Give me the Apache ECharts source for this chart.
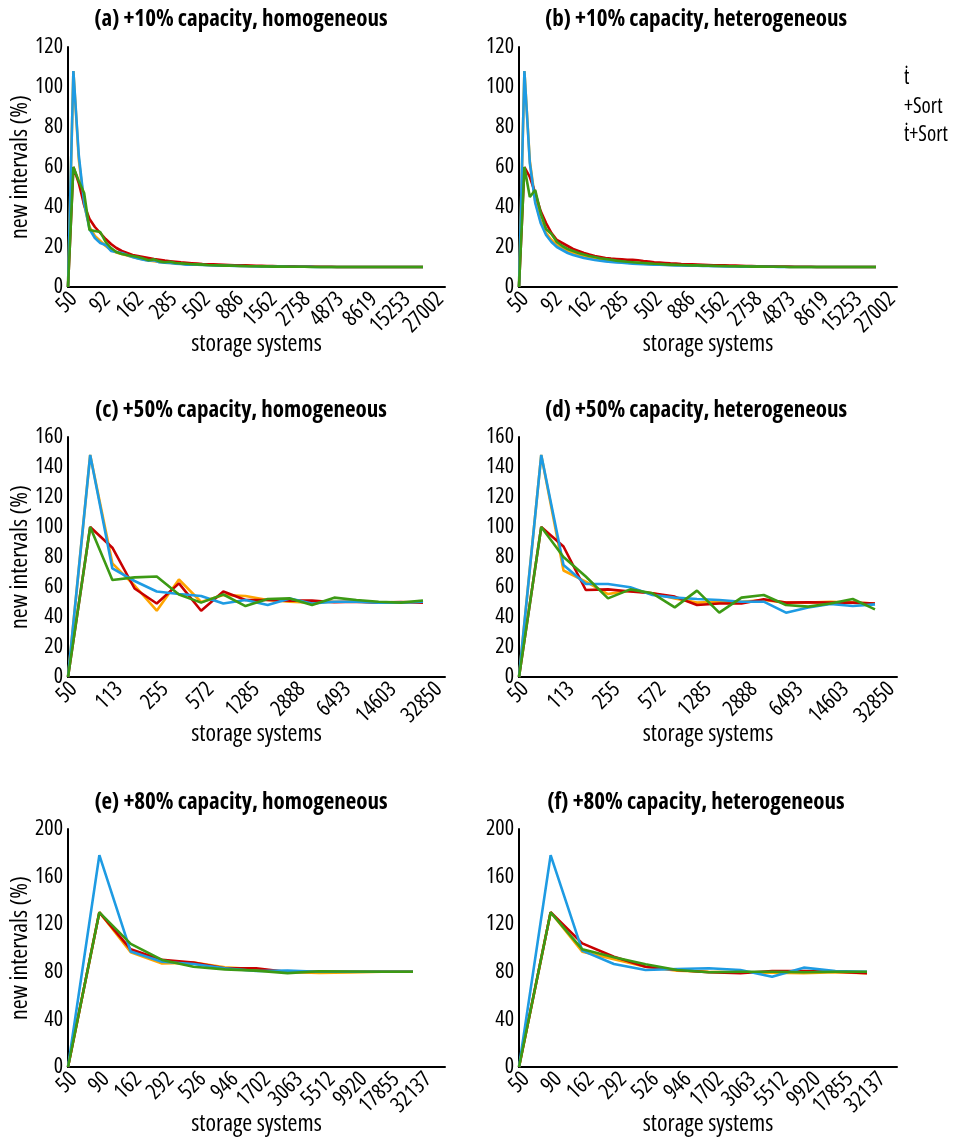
<!DOCTYPE html>
<html><head><meta charset="utf-8">
<script src="https://cdn.jsdelivr.net/npm/echarts@6/dist/echarts.min.js"></script>
<style>html,body{margin:0;padding:0;background:#fff}#c{width:965px;height:1140px}</style>
</head><body><div id="c"></div>
<script>
// ---------------- data ----------------
const ticksA = ['50','92','162','285','502','886','1562','2758','4873','8619','15253','27002'];
const ticksC = ['50','113','255','572','1285','2888','6493','14603','32850'];
const ticksE = ['50','90','162','292','526','946','1702','3063','5512','9920','17855','32137'];
const titles = ['(a) +10% capacity, homogeneous','(b) +10% capacity, heterogeneous',
                '(c) +50% capacity, homogeneous','(d) +50% capacity, heterogeneous',
                '(e) +80% capacity, homogeneous','(f) +80% capacity, heterogeneous'];
const xName = 'storage systems';
const yName = 'new intervals (%)';
const seriesNames = ['series 1','series 2','series 3','series 4'];
const legendFragments = ['\u1E6B','+Sort','\u1E6B+Sort'];

// (a) +10% homogeneous
const a1 = [0,108,64,41,30,25.5,23,20.5,18.5,17.2, 16.5,15.8,15,14.4,13.8,13.3,12.9,12.5,12.2,12, 11.8,11.6,11.4,11.3,11.2,11.1,11,10.9,10.8,10.7, 10.7,10.6,10.5,10.5,10.4,10.4,10.3,10.3,10.3,10.2, 10.2,10.2,10.1,10.1,10.1,10.1,10.1,10,10,10, 10,10,10,10,10,10,10,10,10,10, 10,10,10,10,10,10,10];
const a2 = [0,60,52,41,34,30,27,24,21.5,19.5, 18,17,16,15.5,15,14.5,14,13.6,13.2,12.9, 12.6,12.3,12.1,11.9,11.7,11.5,11.4,11.3,11.2,11.1, 11,10.9,10.8,10.8,10.7,10.6,10.6,10.5,10.5,10.4, 10.4,10.3,10.3,10.2,10.2,10.2,10.1,10.1,10.1,10.1, 10,10,10,10,10,10,10,10,10,10, 10,10,10,10,10,10,10];
const a3 = [0,108,66,42,29,24.5,22,21,18,17.5, 17,16,15,14.2,13.6,13.2,13.4,12.4,12.2,12, 11.7,11.5,11.2,11.2,11.1,11,10.9,10.8,10.7,10.6, 10.6,10.5,10.5,10.4,10.4,10.3,10.3,10.3,10.2,10.2, 10.2,10.1,10.1,10.1,10.1,10.1,10,10,10,10, 10,10,10,10,10,10,10,10,10,10, 10,10,10,10,10,10,10];
const a4 = [0,60,53,47,28.5,28,27.5,22.5,19.5,17.5, 16.5,16,15.5,15,14.2,13.4,13.8,12.8,12.4,12.6, 12,11.8,11.6,11.4,11.3,11.2,11,10.9,10.8,10.7, 10.7,10.6,10.5,10.5,10.4,10.4,10.3,10.3,10.2,10.2, 10.2,10.1,10.1,10.1,10.1,10,10,10,10,10, 10,10,10,10,10,10,10,10,10,10, 10,10,10,10,10,10,10];
// (b) +10% heterogeneous
const b1 = [0,108,63,43,33,27,23.5,21,19.3,18, 17,16,15.2,14.6,14,13.6,13.2,12.9,12.6,12.4, 12.2,12,11.8,11.6,11.5,11.4,11.2,11.1,11,10.9, 10.9,10.8,10.7,10.7,10.6,10.6,10.5,10.5,10.4,10.4, 10.3,10.3,10.3,10.2,10.2,10.2,10.1,10.1,10.1,10.1, 10,10,10,10,10,10,10,10,10,10, 10,10,10,10,10,10,10];
const b2 = [0,60,55,47,38,32,27,23.5,22,20.5, 19,18,17,16.2,15.5,15,14.5,14.2,14,13.8, 13.6,13.6,13.4,13,12.7,12.4,12.2,12,11.8,11.7, 11.5,11.4,11.3,11.2,11.1,11,10.9,10.9,10.8,10.7, 10.7,10.6,10.5,10.5,10.4,10.4,10.3,10.3,10.2,10.2, 10.2,10.1,10.1,10.1,10.1,10,10,10,10,10, 10,10,10,10,10,10,10];
const b3 = [0,108,62,42,32,26,22.5,20,18.5,17, 16,15.2,14.5,14,13.5,13.1,12.8,12.5,12.3,12.1, 11.9,11.7,11.5,11.4,11.3,11.2,11.1,11,10.9,10.8, 10.8,10.7,10.6,10.6,10.5,10.5,10.4,10.4,10.3,10.3, 10.3,10.2,10.2,10.2,10.1,10.1,10.1,10.1,10,10, 10,10,10,10,10,10,10,10,10,10, 10,10,10,10,10,10,10];
const b4 = [0,60,45,48.5,37,29,26.5,22.5,20.5,19, 18,17,16.2,15.5,15,14.4,14,13.6,13.2,12.9, 12.6,12.4,12.2,12,11.8,11.6,11.5,11.3,11.2,11.1, 11,10.9,10.8,10.8,10.7,10.6,10.6,10.5,10.5,10.4, 10.4,10.3,10.3,10.2,10.2,10.2,10.1,10.1,10.1,10.1, 10,10,10,10,10,10,10,10,10,10, 10,10,10,10,10,10,10];
// (c) +50% homogeneous
const c1 = [0,148,75.8,61,44.2,65,50,54.7,54,51.3,50.2,49.6,50.2,50.2,49.8,49.8,50];
const c2 = [0,100,86.2,59,49,62.4,44.2,57,51.3,51.3,50.9,51,49.8,50.2,49.6,50,49.6];
const c3 = [0,148,72.4,64,57,55.3,54,49,51.3,48,52.4,49,50.2,50.2,49.6,49.6,50.2];
const c4 = [0,100,64.7,66.4,67,55,49.6,55,47.3,52,52.4,48,52.9,51.3,50.2,49.6,51];
// (d) +50% heterogeneous
const d1 = [0,148,71,63.6,55.3,57.6,55.8,52.4,49.6,50.2,50.2,51.3,49.6,49.6,50.2,49.6,49];
const d2 = [0,100,87,58,58.4,57,55.8,53.6,48,49,49,51.8,49.6,49.8,49.6,49.6,49];
const d3 = [0,148,74.7,62,62,59.8,54.7,52.9,52,51.3,50.2,50.2,42.9,46.4,48.7,47.3,48.4];
const d4 = [0,100,80,67,52.4,58.4,55.8,46.4,57.6,42.9,52.9,54.7,48,46.9,49,52,45.1];
// (e) +80% homogeneous
const e1 = [0,130,96.4,87,87.7,83.8,82,79.8,79,79.5,80,80];
const e2 = [0,130,98.9,90,87.7,83,83,79.8,80,80,80,80];
const e3 = [0,178,97,88.5,86.6,83,80.7,81,80,80,80,80];
const e4 = [0,130,103.4,90,84.3,82,81,78.9,80.4,80.2,80,80];
// (f) +80% heterogeneous
const f1 = [0,130,96.9,90.5,84.3,81,80.1,79.3,79.3,78.8,79.6,78.8];
const f2 = [0,130,103.9,92.7,84.3,81.5,79.6,78.8,80.7,80.7,80.1,78.8];
const f3 = [0,178,97.8,86.6,81.5,82.4,83,81.5,75.9,83.5,80.7,80.1];
const f4 = [0,130,98.9,92.2,86.3,81.5,79.6,80.1,80.1,79.6,80.1,80.1];

// ---------------- style / layout ----------------
const FAM = "'Open Sans', 'DejaVu Sans Condensed', sans-serif";
const TXT = {fontFamily:FAM, fontStyle:'condensed', color:'#000'};
const colors = ['#FFA500','#C80000','#1E9BE3','#3C9A14'];
const panels = [
  {t:0, ticks:ticksA, s:[a1,a2,a3,a4], ymax:120, yint:20, left:68,  top:47,  w:377, h:240, end:423, labL:73.6, labW:366.7, tx:241, ty:8,   yn:true},
  {t:1, ticks:ticksA, s:[b1,b2,b3,b4], ymax:120, yint:20, left:519, top:47,  w:378, h:240, end:876, labL:525.3, labW:366.7, tx:696, ty:8,  yn:false},
  {t:2, ticks:ticksC, s:[c1,c2,c3,c4], ymax:160, yint:20, left:68,  top:437, w:377, h:240, end:423, labL:73.6, labW:365,   tx:241, ty:399, yn:true},
  {t:3, ticks:ticksC, s:[d1,d2,d3,d4], ymax:160, yint:20, left:519, top:437, w:378, h:240, end:875, labL:525.3, labW:366,  tx:696, ty:399, yn:false},
  {t:4, ticks:ticksE, s:[e1,e2,e3,e4], ymax:200, yint:40, left:68,  top:829, w:377, h:238, end:413, labL:73.6, labW:354.7, tx:241, ty:791, yn:true},
  {t:5, ticks:ticksE, s:[f1,f2,f3,f4], ymax:200, yint:40, left:519, top:829, w:378, h:238, end:867, labL:526,  labW:356,   tx:696, ty:791, yn:false}
];

const grid = [], xAxis = [], yAxis = [], series = [], title = [];
const axisLineStyle = {color:'#000', width:2};
panels.forEach((p, k) => {
  const n = p.s[0].length;
  grid.push({left:p.left, top:p.top, width:p.w, height:p.h, containLabel:false, outerBoundsMode:'none'});
  grid.push({left:p.labL, top:p.top, width:p.labW, height:p.h, containLabel:false, outerBoundsMode:'none'});
  xAxis.push({type:'value', gridIndex:2*k, min:0, max:(n-1)*p.w/(p.end-p.left),
    axisLine:{show:true, onZero:false, lineStyle:axisLineStyle}, axisTick:{show:false},
    axisLabel:{show:false}, splitLine:{show:false},
    name:xName, nameLocation:'middle', nameGap:45, nameMoveOverlap:false,
    nameTextStyle:Object.assign({fontSize:24}, TXT)});
  xAxis.push({type:'category', gridIndex:2*k+1, data:p.ticks, boundaryGap:false,
    axisLine:{show:false}, axisTick:{show:false}, splitLine:{show:false},
    axisLabel:Object.assign({interval:0, rotate:45, margin:9, fontSize:22}, TXT)});
  yAxis.push({type:'value', gridIndex:2*k, min:0, max:p.ymax, interval:p.yint,
    axisLine:{show:true, onZero:false, lineStyle:axisLineStyle}, axisTick:{show:false},
    splitLine:{show:false},
    axisLabel:Object.assign({margin:5, fontSize:22}, TXT),
    name:p.yn ? yName : '', nameLocation:'middle', nameGap:36, nameMoveOverlap:false,
    nameTextStyle:Object.assign({fontSize:24}, TXT)});
  yAxis.push({type:'value', gridIndex:2*k+1, show:false, min:0, max:1});
  title.push({text:titles[p.t], left:p.tx, top:p.ty, textAlign:'center', padding:0,
    textStyle:Object.assign({fontSize:23, fontWeight:'bold'}, TXT)});
  p.s.forEach((arr, j) => {
    series.push({type:'line', name:seriesNames[j], xAxisIndex:2*k, yAxisIndex:2*k,
      data:arr.map((v, i) => [i, v]), symbol:'none', silent:true,
      lineStyle:{width:2.6, color:colors[j]}, itemStyle:{color:colors[j]}});
  });
});

const legendY = [79, 108, 136];
const graphic = legendFragments.map((t, i) => ({
  type:'text', left:904, top:legendY[i]-11,
  style:{text:t, font:"condensed 21px 'Open Sans'", fill:'#000'}
}));

const chart = echarts.init(document.getElementById('c'), null, {renderer:'canvas'});
chart.setOption({
  animation:false, backgroundColor:'#fff',
  title, grid, xAxis, yAxis, series, graphic,
  tooltip:{show:false}
});
</script></body></html>
